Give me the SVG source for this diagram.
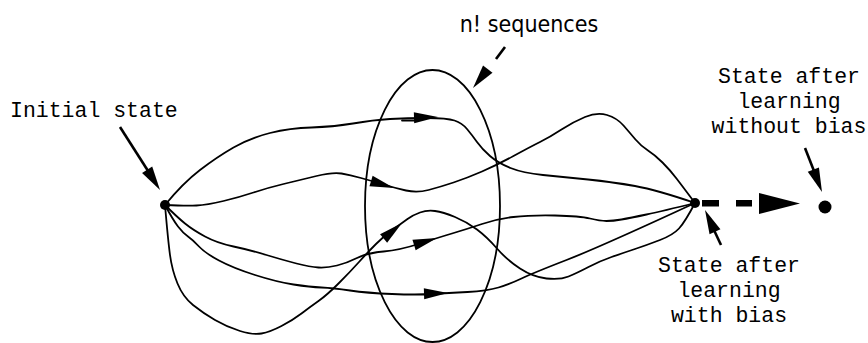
<svg xmlns="http://www.w3.org/2000/svg" xmlns:xlink="http://www.w3.org/1999/xlink" width="868" height="343" viewBox="0 0 868 343">
<style>
.curve{fill:none;stroke:#000;stroke-width:1.8;stroke-linecap:round;stroke-linejoin:round}
.ptr{fill:none;stroke:#000;stroke-width:2.6}
.mono{font-family:"Liberation Mono","DejaVu Sans Mono",monospace;font-size:21.5px;fill:#000}
.sans{font-family:"DejaVu Sans Condensed","DejaVu Sans",sans-serif;font-size:23px;fill:#000}
.dot{fill:#000}
</style>
<defs>
<path id="ah" d="M0,0 L-24,-5.5 L-24,5.5 Z" fill="#000"/>
<path id="ph" d="M0,0 L-24,-6 L-24,6 Z" fill="#000"/>
</defs>
<rect width="868" height="343" fill="#fff"/>

<g id="sequences">
<ellipse cx="432.5" cy="206" rx="67.5" ry="136" fill="none" stroke="#000" stroke-width="1.8"/>
</g>

<g id="connectors">
<path class="curve" d="M165,205 Q183,183 200,170 Q217,157 233.5,147.5 Q250,138 270,133 Q290,128 311.5,127.5 Q333,127 353,123.5 Q373,120 390,119 Q407,118 427,118 Q447,118 454.5,120.5 Q462,123 467,129 Q472,135 477,142 Q482,149 490,156 Q498,163 510.5,168 Q523,173 543,175 Q563,177 588,179.5 Q613,182 635,186 Q657,190 695,203"/>
<path class="curve" d="M402,120.5 L416,120.5"/>
<path class="curve" d="M165,205 Q186,206 196.5,205.5 Q207,205 223.5,201 Q240,197 253.5,192.5 Q267,188 283.5,184 Q300,180 316.5,176 Q333,172 341.5,173.5 Q350,175 361,178 Q372,181 383.5,184.5 Q395,188 406,190.5 Q417,193 428.5,190 Q440,187 453.5,182.5 Q467,178 482,171.5 Q497,165 513.5,156 Q530,147 540,142 Q550,137 561.5,129.5 Q573,122 585,117 Q597,112 607,115 Q617,118 623.5,125.5 Q630,133 635.5,139.5 Q641,146 648,150.5 Q655,155 662.5,162.5 Q670,170 676.5,178.5 Q683,187 695,203"/>
<path class="curve" d="M165,205 Q177,217 185,223.5 Q193,230 205,236.5 Q217,243 233.5,246.5 Q250,250 266.5,255 Q283,260 296.5,263.5 Q310,267 318.5,267.5 Q327,268 337,265.5 Q347,263 357,258 Q367,253 383.5,251.5 Q400,250 418.5,244 Q437,238 452,233.5 Q467,229 482,224 Q497,219 513.5,217 Q530,215 555,215.5 Q580,216 590,218.5 Q600,221 606.5,221 Q613,221 621.5,219.5 Q630,218 646.5,214.5 Q663,211 695,203"/>
<path class="curve" d="M165,205 Q173,220 178,226.5 Q183,233 188,236.5 Q193,240 199,246.5 Q205,253 219,260.5 Q233,268 255,275 Q277,282 293.5,284.5 Q310,287 321.5,287.5 Q333,288 350,290.5 Q367,293 392,294 Q417,295 432.5,294 Q448,293 467.5,292 Q487,291 498.5,287.5 Q510,284 521.5,278.5 Q533,273 566.5,260 Q600,247 695,203"/>
<path class="curve" d="M165,205 Q168,240 170,255 Q172,270 177.5,283.5 Q183,297 193,305 Q203,313 215,320 Q227,327 240,331 Q253,335 261.5,333.5 Q270,332 281.5,326 Q293,320 301.5,313.5 Q310,307 318.5,301 Q327,295 338.5,283.5 Q350,272 359,262 Q368,252 376,244 Q384,236 393,229.5 Q402,223 407.5,219 Q413,215 420,212.5 Q427,210 435,211 Q443,212 455,217 Q467,222 477,229.5 Q487,237 497,248.5 Q507,260 520,268.5 Q533,277 546.5,278.5 Q560,280 568.5,276.5 Q577,273 588.5,267 Q600,261 611.5,257 Q623,253 635,249 Q647,245 660,240 Q673,235 679,228.5 Q685,222 695,203"/>
<use xlink:href="#ah" transform="translate(438,117) rotate(-2)"/>
<use xlink:href="#ah" transform="translate(394,188) rotate(17)"/>
<use xlink:href="#ah" transform="translate(437,238) rotate(-17)"/>
<use xlink:href="#ah" transform="translate(448,293) rotate(-2)"/>
<use xlink:href="#ah" transform="translate(402,223) rotate(-40)"/>

<line class="ptr" x1="120" y1="127" x2="150" y2="174"/>
<use xlink:href="#ph" transform="translate(160,190) rotate(57.6)"/>
<line class="ptr" x1="505" y1="47" x2="496" y2="59"/>
<use xlink:href="#ph" transform="translate(473,88) rotate(128)"/>
<line class="ptr" x1="805" y1="148" x2="814" y2="171"/>
<use xlink:href="#ph" transform="translate(822,192) rotate(68.9)"/>
<line class="ptr" x1="721" y1="245" x2="713" y2="228"/>
<use xlink:href="#ph" transform="translate(705,210) rotate(-114.6)"/>

<rect x="702" y="200" width="17" height="6.5" fill="#000"/>
<rect x="736" y="200" width="16" height="6.5" fill="#000"/>
<path d="M759,193 L800,203.5 L759,214 Z" fill="#000"/>
</g>

<g id="initial">
<circle class="dot" cx="165" cy="205" r="5"/>
<text class="mono" x="10" y="117">Initial state</text>
</g>
<g id="biased">
<circle class="dot" cx="695" cy="203" r="5"/>
<text class="mono" text-anchor="middle"><tspan x="729" y="272">State after</tspan><tspan x="729" y="297">learning</tspan><tspan x="729" y="322">with bias</tspan></text>
</g>
<g id="unbiased">
<circle class="dot" cx="825" cy="207" r="6.5"/>
<text class="mono" text-anchor="middle"><tspan x="789" y="83">State after</tspan><tspan x="789" y="108">learning</tspan><tspan x="789" y="133">without bias</tspan></text>
</g>
<g id="label-sequences">
<text class="sans" x="529" y="32" text-anchor="middle">n! sequences</text>
</g>
</svg>
